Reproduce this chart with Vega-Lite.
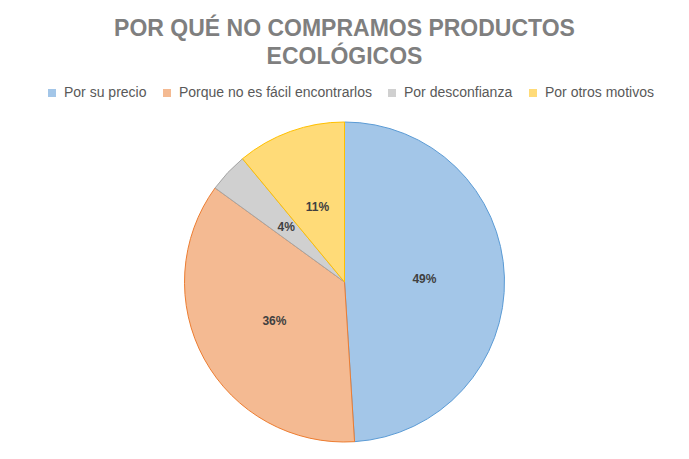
{
  "$schema": "https://vega.github.io/schema/vega-lite/v6.json",
  "width": 689,
  "height": 354,
  "autosize": "none",
  "padding": {"top": 105, "left": 0, "right": 0, "bottom": 0},
  "background": "white",
  "title": {
    "text": ["POR QUÉ NO COMPRAMOS PRODUCTOS", "ECOLÓGICOS"],
    "anchor": "middle",
    "font": "Liberation Sans",
    "fontSize": 23,
    "fontWeight": "bold",
    "color": "#7F7F7F",
    "lineHeight": 28,
    "offset": 17
  },
  "data": {
    "values": [
      {"motivo": "Por su precio", "pct": 49, "orden": 1, "label": "49%"},
      {"motivo": "Porque no es fácil encontrarlos", "pct": 36, "orden": 2, "label": "36%"},
      {"motivo": "Por desconfianza", "pct": 4, "orden": 3, "label": "4%"},
      {"motivo": "Por otros motivos", "pct": 11, "orden": 4, "label": "11%"}
    ]
  },
  "encoding": {
    "theta": {"field": "pct", "type": "quantitative", "stack": true},
    "order": {"field": "orden", "type": "quantitative"}
  },
  "layer": [
    {
      "mark": {"type": "arc", "outerRadius": 160, "strokeWidth": 1},
      "encoding": {
        "color": {
          "field": "motivo",
          "type": "nominal",
          "scale": {
            "domain": ["Por su precio", "Porque no es fácil encontrarlos", "Por desconfianza", "Por otros motivos"],
            "range": ["#A3C6E8", "#F4BA92", "#D0D0D0", "#FFDB78"]
          },
          "legend": {
            "orient": "none",
            "legendX": 45,
            "legendY": -19,
            "direction": "horizontal",
            "title": null,
            "symbolType": "square",
            "symbolSize": 64,
            "symbolStrokeWidth": 0,
            "labelFont": "Liberation Sans",
            "labelFontSize": 14,
            "labelLimit": 400,
            "labelColor": "#595959",
            "columnPadding": 13,
            "labelOffset": 5
          }
        },
        "stroke": {
          "field": "motivo",
          "type": "nominal",
          "scale": {
            "domain": ["Por su precio", "Porque no es fácil encontrarlos", "Por desconfianza", "Por otros motivos"],
            "range": ["#5B9BD5", "#ED7D31", "#A5A5A5", "#FFC000"]
          },
          "legend": null
        }
      }
    },
    {
      "mark": {"type": "text", "radius": 80, "font": "Liberation Sans", "fontSize": 12, "fontWeight": "bold", "color": "#404040"},
      "encoding": {
        "text": {"field": "label", "type": "nominal"}
      }
    }
  ]
}
